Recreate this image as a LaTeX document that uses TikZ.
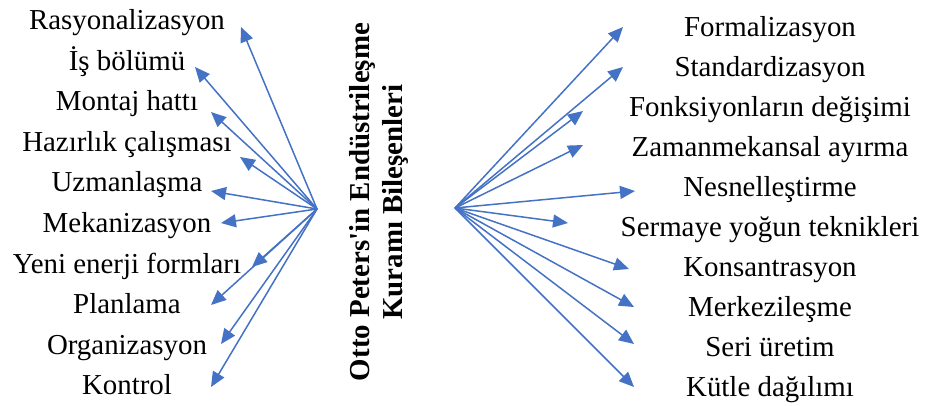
\documentclass[tikz,border=0pt]{standalone}
\usepackage{fontspec}
\setmainfont{Liberation Serif}
\usetikzlibrary{arrows.meta}
\definecolor{arrowblue}{RGB}{68,114,196}
\tikzset{
  item/.style={anchor=base, inner sep=0pt, font=\fontsize{28.9}{32}\selectfont},
  title/.style={rotate=90, align=center, inner sep=0pt,
    font=\fontsize{28.9}{32.5}\selectfont\bfseries},
  arr/.style={arrowblue, line width=1.5pt,
    -{Triangle[length=15pt,width=13pt]}}
}
\begin{document}
\begin{tikzpicture}[x=1pt,y=-1pt]
\useasboundingbox (0,0) rectangle (925,405);

% centre title
\node[title] (T) at (379,202) {Otto Peters\textquotesingle in Endüstrileşme\\Kuramı Bileşenleri};

% hubs where the arrows start
\coordinate (hl) at (317,209);
\coordinate (hr) at (455,208);

% left-hand components
\foreach \i/\t in {0/Rasyonalizasyon, 1/İş bölümü, 2/Montaj hattı,
  3/Hazırlık çalışması, 4/Uzmanlaşma, 5/Mekanizasyon,
  6/Yeni enerji formları, 7/Planlama, 8/Organizasyon, 9/Kontrol}
  \node[item] (l\i) at (127,{29.5+40.6*\i}) {\t};

% right-hand components
\foreach \i/\t in {0/Formalizasyon, 1/Standardizasyon,
  2/Fonksiyonların değişimi, 3/Zamanmekansal ayırma,
  4/Nesnelleştirme, 5/Sermaye yoğun teknikleri, 6/Konsantrasyon,
  7/Merkezileşme, 8/Seri üretim, 9/Kütle dağılımı}
  \node[item] (r\i) at (770,{36+40.1*\i}) {\t};

% arrow tips, left
\foreach \i/\x/\y in {0/241/27, 1/195/67, 2/211/112, 3/240/157, 4/211/191,
  5/221/223, 6/252/267, 7/211/305, 8/221/344, 9/211/387}
  \coordinate (tl\i) at (\x,\y);

% arrow tips, right
\foreach \i/\x/\y in {0/623/27, 1/623/67, 2/583/111, 3/583/145, 4/635/191,
  5/568/223, 6/629/269, 7/634/307, 8/634/344, 9/634/387}
  \coordinate (tr\i) at (\x,\y);

\foreach \i in {0,...,9} {
  \draw[arr] (hl) -- (tl\i);
  \draw[arr] (hr) -- (tr\i);
}
\end{tikzpicture}
\end{document}
